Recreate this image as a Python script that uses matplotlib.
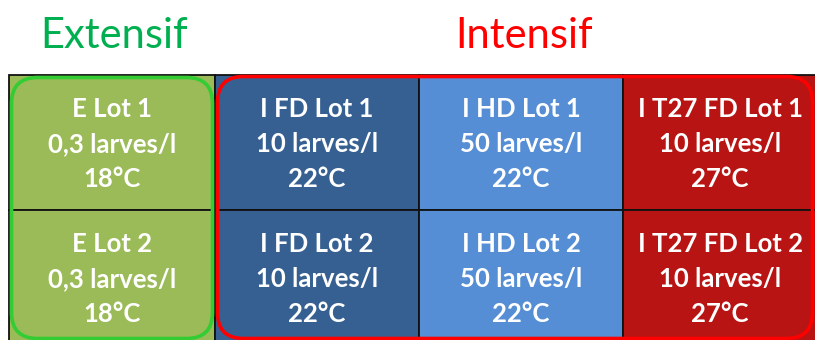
import matplotlib
matplotlib.use("Agg")
import matplotlib.pyplot as plt
from matplotlib.patches import Rectangle, FancyBboxPatch

plt.rcParams['font.family'] = ['Lato', 'DejaVu Sans']

# ---- data ----
groups = ["Extensif", "Intensif"]
group_colors = ["#00B050", "#FF0000"]
col_labels = ["E", "I FD", "I HD", "I T27 FD"]
lots = ["Lot 1", "Lot 2"]
densities = ["0,3 larves/l", "10 larves/l", "50 larves/l", "10 larves/l"]
temperatures = ["18°C", "22°C", "22°C", "27°C"]
cell_colors = ["#9BBB59", "#376092", "#558ED5", "#B81414"]

# ---- layout (pixels) ----
W, H = 815, 340
col_edges = [9, 215, 419, 623, 817]
row_edges = [75, 210, 345]

fig = plt.figure(figsize=(W / 100, H / 100), dpi=100)
ax = fig.add_axes([0, 0, 1, 1])
ax.set_xlim(0, W)
ax.set_ylim(H, 0)
ax.axis('off')

for c in range(4):
    for r in range(2):
        x0, x1 = col_edges[c], col_edges[c + 1]
        y0, y1 = row_edges[r], row_edges[r + 1]
        ax.add_patch(Rectangle((x0, y0), x1 - x0, y1 - y0, facecolor=cell_colors[c],
                               edgecolor='#111111', linewidth=1.3, zorder=1))
        xc = (x0 + x1) / 2
        base = y0 + 42
        lines = [f"{col_labels[c]} {lots[r]}", densities[c], temperatures[c]]
        for i, t in enumerate(lines):
            ax.text(xc, base + i * 35, t, ha='center', va='baseline', color='white',
                    fontsize=18.5, fontweight='bold', zorder=4)

# rounded group outlines
ax.add_patch(FancyBboxPatch((11.5, 77.5), 201, 261, boxstyle="round,pad=0,rounding_size=26",
                            facecolor='none', edgecolor='#33CC33', linewidth=2.6, zorder=3))
ax.add_patch(FancyBboxPatch((217.5, 76.5), 595, 262, boxstyle="round,pad=0,rounding_size=26",
                            facecolor='none', edgecolor='#FF0000', linewidth=2.6, zorder=3))

# group titles
ax.text(114, 48, groups[0], ha='center', va='baseline', color=group_colors[0], fontsize=30)
ax.text(524, 48, groups[1], ha='center', va='baseline', color=group_colors[1], fontsize=30)

fig.savefig("out.png", dpi=100)
